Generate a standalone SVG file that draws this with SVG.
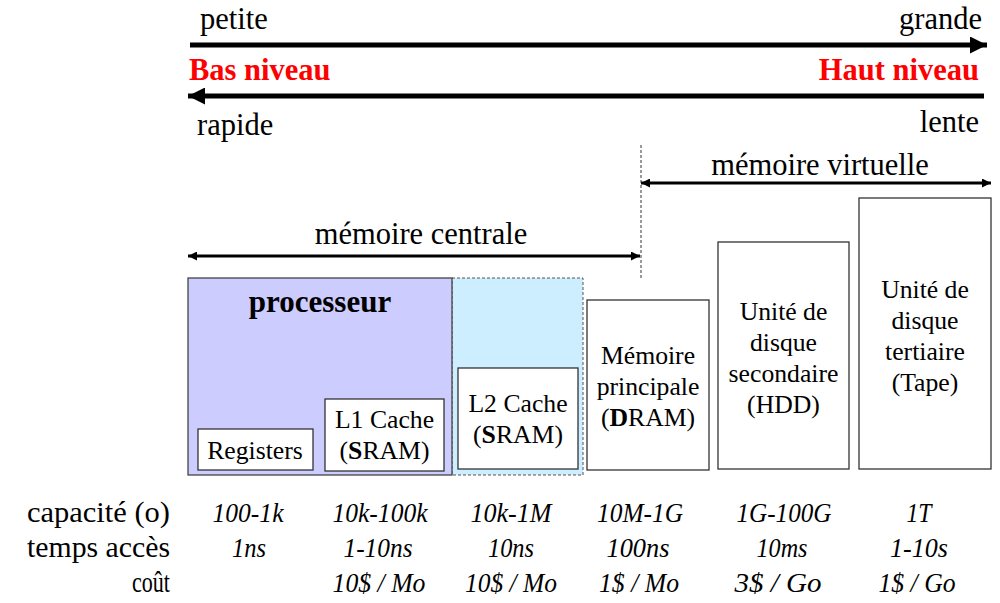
<svg xmlns="http://www.w3.org/2000/svg" width="1000" height="603" viewBox="0 0 1000 603" font-family="Liberation Serif, DejaVu Serif, serif">
  <style>
    text { font-family: 'Liberation Serif', 'DejaVu Serif', serif; fill: #000; }
    .lbl { font-size: 30.5px; }
    .red { font-size: 30.5px; font-weight: bold; fill: #ff0000; }
    .box { fill: #fff; stroke: #333; stroke-width: 1.3; }
    .bt { font-size: 25.7px; text-anchor: middle; }
    .val { font-size: 28px; font-style: italic; text-anchor: middle; }
    .hdr { font-size: 29px; text-anchor: end; }
    .big { stroke: #000; stroke-width: 5; fill: none; }
    .mid { stroke: #000; stroke-width: 3; fill: none; }
  </style>
  <defs>
    <marker id="bigHead" viewBox="0 0 10 10" refX="10" refY="5" markerWidth="4" markerHeight="3.4" orient="auto-start-reverse" markerUnits="strokeWidth">
      <path d="M0,0 L10,5 L0,10 Z" fill="#000"/>
    </marker>
    <marker id="midHead" viewBox="0 0 10 10" refX="10" refY="5" markerWidth="3.3" markerHeight="3" orient="auto-start-reverse" markerUnits="strokeWidth">
      <path d="M0,0 L10,5 L0,10 Z" fill="#000"/>
    </marker>
  </defs>

  <!-- scale axes -->
  <g id="axes">
    <text class="lbl" x="200" y="29">petite</text>
    <text class="lbl" x="982" y="29" text-anchor="end">grande</text>
    <text class="red" x="189" y="80">Bas niveau</text>
    <text class="red" x="979" y="80" text-anchor="end">Haut niveau</text>
    <text class="lbl" x="197" y="135">rapide</text>
    <text class="lbl" x="979" y="132" text-anchor="end">lente</text>
  </g>

  <g id="connectors">
    <line class="big" x1="190" y1="45" x2="987" y2="45" marker-end="url(#bigHead)"/>
    <line class="big" x1="984" y1="96" x2="188" y2="96" marker-end="url(#bigHead)"/>
    <line class="mid" x1="188" y1="256" x2="640" y2="256" marker-start="url(#midHead)" marker-end="url(#midHead)"/>
    <line class="mid" x1="641" y1="183" x2="991" y2="183" marker-start="url(#midHead)" marker-end="url(#midHead)"/>
    <line x1="641" y1="145" x2="641" y2="280" stroke="#333" stroke-width="1" stroke-dasharray="3,2"/>
  </g>

  <g id="range-labels">
    <text class="lbl" x="421" y="244" text-anchor="middle">mémoire centrale</text>
    <text class="lbl" x="820" y="175" text-anchor="middle">mémoire virtuelle</text>
  </g>

  <!-- processor area and L2 zone -->
  <g id="l2-zone">
    <rect x="452" y="278" width="131" height="197" fill="#cceeff" stroke="#555" stroke-width="1" stroke-dasharray="3,2"/>
  </g>
  <g id="processeur">
    <rect x="188" y="278" width="264" height="197" fill="#ccccff" stroke="#444" stroke-width="1.3"/>
    <text x="320" y="312" font-size="31" font-weight="bold" text-anchor="middle">processeur</text>
  </g>

  <g id="registers">
    <rect class="box" x="198" y="429" width="115" height="41"/>
    <text class="bt" x="255" y="459">Registers</text>
  </g>
  <g id="l1-cache">
    <rect class="box" x="325" y="399" width="119" height="72"/>
    <text class="bt" x="384.5" y="428">L1 Cache</text>
    <text class="bt" x="384.5" y="459">(<tspan font-weight="bold">S</tspan>RAM)</text>
  </g>
  <g id="l2-cache">
    <rect class="box" x="458" y="368" width="120" height="101"/>
    <text class="bt" x="518" y="412">L2 Cache</text>
    <text class="bt" x="518" y="443">(<tspan font-weight="bold">S</tspan>RAM)</text>
  </g>
  <g id="memoire-principale">
    <rect class="box" x="587" y="300" width="122" height="170"/>
    <text class="bt" x="648" y="364">Mémoire</text>
    <text class="bt" x="648" y="395">principale</text>
    <text class="bt" x="648" y="426">(<tspan font-weight="bold">D</tspan>RAM)</text>
  </g>
  <g id="disque-secondaire">
    <rect class="box" x="718" y="242" width="131" height="227"/>
    <text class="bt" x="783.5" y="320">Unité de</text>
    <text class="bt" x="783.5" y="351">disque</text>
    <text class="bt" x="783.5" y="382">secondaire</text>
    <text class="bt" x="783.5" y="413">(HDD)</text>
  </g>
  <g id="disque-tertiaire">
    <rect class="box" x="859" y="198" width="132" height="271"/>
    <text class="bt" x="925" y="298">Unité de</text>
    <text class="bt" x="925" y="329">disque</text>
    <text class="bt" x="925" y="360">tertiaire</text>
    <text class="bt" x="925" y="391">(Tape)</text>
  </g>

  <!-- characteristics table -->
  <g id="table">
    <text class="hdr" x="170" y="522" textLength="143" lengthAdjust="spacingAndGlyphs">capacité (o)</text>
    <text class="hdr" x="170" y="557" textLength="143" lengthAdjust="spacingAndGlyphs">temps accès</text>
    <text class="hdr" x="170" y="592" textLength="38" lengthAdjust="spacingAndGlyphs">coût</text>

    <text class="val" x="248" y="522" textLength="71" lengthAdjust="spacingAndGlyphs">100-1k</text>
    <text class="val" x="380" y="522" textLength="95" lengthAdjust="spacingAndGlyphs">10k-100k</text>
    <text class="val" x="511" y="522" textLength="81" lengthAdjust="spacingAndGlyphs">10k-1M</text>
    <text class="val" x="640" y="522" textLength="86" lengthAdjust="spacingAndGlyphs">10M-1G</text>
    <text class="val" x="784" y="522" textLength="95" lengthAdjust="spacingAndGlyphs">1G-100G</text>
    <text class="val" x="919" y="522" textLength="25" lengthAdjust="spacingAndGlyphs">1T</text>

    <text class="val" x="249" y="557" textLength="34" lengthAdjust="spacingAndGlyphs">1ns</text>
    <text class="val" x="378" y="557" textLength="69" lengthAdjust="spacingAndGlyphs">1-10ns</text>
    <text class="val" x="511" y="557" textLength="46" lengthAdjust="spacingAndGlyphs">10ns</text>
    <text class="val" x="638" y="557" textLength="63" lengthAdjust="spacingAndGlyphs">100ns</text>
    <text class="val" x="782" y="557" textLength="51" lengthAdjust="spacingAndGlyphs">10ms</text>
    <text class="val" x="919" y="557" textLength="58" lengthAdjust="spacingAndGlyphs">1-10s</text>

    <text class="val" x="379" y="592" textLength="93" lengthAdjust="spacingAndGlyphs">10$ / Mo</text>
    <text class="val" x="511" y="592" textLength="92" lengthAdjust="spacingAndGlyphs">10$ / Mo</text>
    <text class="val" x="639" y="592" textLength="80" lengthAdjust="spacingAndGlyphs">1$ / Mo</text>
    <text class="val" x="778" y="592" textLength="87" lengthAdjust="spacingAndGlyphs">3$ / Go</text>
    <text class="val" x="917" y="592" textLength="77" lengthAdjust="spacingAndGlyphs">1$ / Go</text>
  </g>
</svg>
